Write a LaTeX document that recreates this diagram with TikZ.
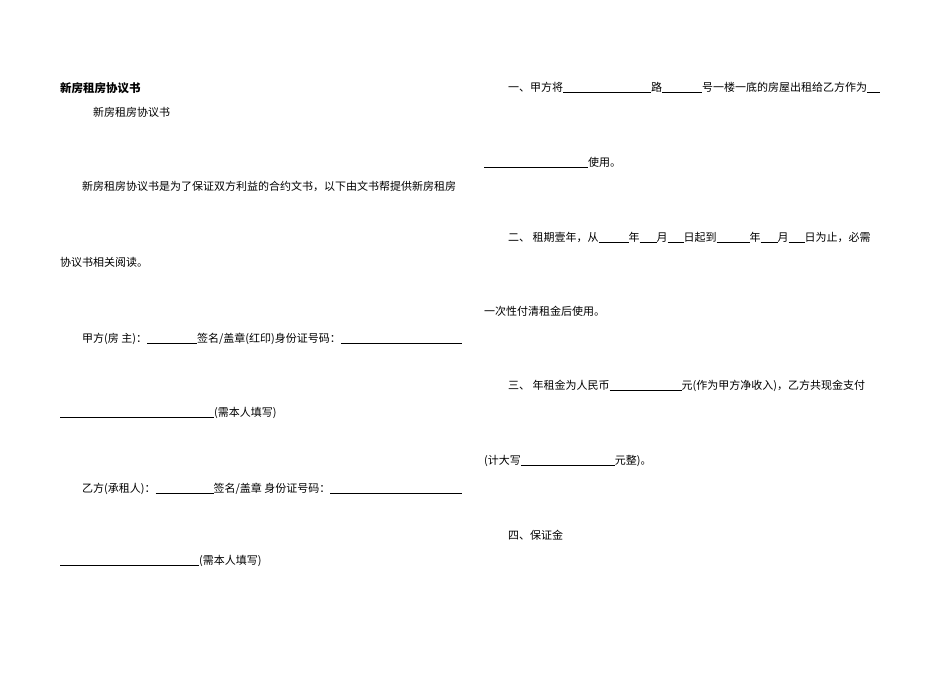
\documentclass[tikz,border=0pt]{standalone}
\usepackage{fontspec}
\setmainfont{Noto Sans CJK SC}
\newcommand{\uline}[1]{\rule[-1.5pt]{#1pt}{0.5pt}}
\begin{document}
\begin{tikzpicture}[x=1pt,y=-1pt,
  txt/.style={anchor=base west,inner sep=0pt,font=\fontsize{11}{13}\selectfont},
  ttl/.style={anchor=base west,inner sep=0pt,font=\fontsize{11.5}{13}\selectfont\bfseries}]
\useasboundingbox[fill=white] (0,0) rectangle (950,672);
\node[ttl] (t1) at (60,92) {新房租房协议书};
\node[txt] (t2) at (93,116) {新房租房协议书};
\node[txt] (p1) at (82,190) {新房租房协议书是为了保证双方利益的合约文书，以下由文书帮提供新房租房};
\node[txt] (p2) at (60,266) {协议书相关阅读。};
\node[txt] (a1) at (82,342) {甲方(房\ 主)：\uline{50}签名/盖章(红印)身份证号码：\uline{121}};
\node[txt] (a2) at (60,416) {\uline{154}(需本人填写)};
\node[txt] (b1) at (82,492) {乙方(承租人)：\uline{58}签名/盖章\ 身份证号码：\uline{132}};
\node[txt] (b2) at (60,564) {\uline{139}(需本人填写)};
\node[txt] (r1) at (508,91) {一、甲方将\uline{88}路\uline{40}号一楼一底的房屋出租给乙方作为\uline{13}};
\node[txt] (r2) at (484,166) {\uline{104}使用。};
\node[txt] (r3) at (508,241) {二、\ 租期壹年，从\uline{30}年\uline{17}月\uline{16}日起到\uline{33}年\uline{17}月\uline{16}日为止，必需};
\node[txt] (r4) at (484,315) {一次性付清租金后使用。};
\node[txt] (r5) at (508,389) {三、\ 年租金为人民币\uline{72}元(作为甲方净收入)，乙方共现金支付};
\node[txt] (r6) at (484,464) {(计大写\uline{94}元整)。};
\node[txt] (r7) at (508,539) {四、保证金};
\end{tikzpicture}
\end{document}
